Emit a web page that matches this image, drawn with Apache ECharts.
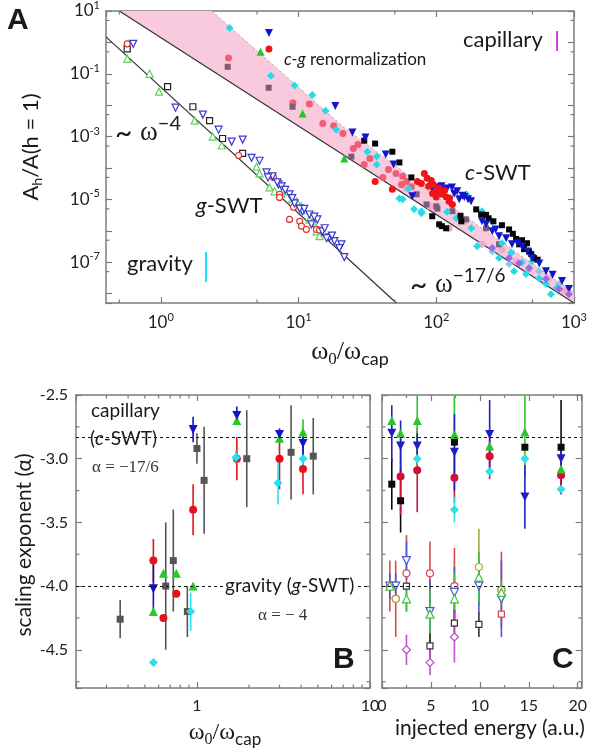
<!DOCTYPE html>
<html><head><meta charset="utf-8">
<script src="https://cdn.jsdelivr.net/npm/echarts@6/dist/echarts.min.js"></script>
<style>html,body{margin:0;padding:0;background:#fff}#c{width:590px;height:751px}</style>
</head><body><div id="c"></div>
<script>
// ===== Panel A: capillary (filled) data [omega0/omega_cap, A_h/A(h=1)] =====
const aCapRed = [[6.1,0.62],[36,3.7e-5],[48,2.1e-5],[73,3.7e-5],[82,6.7e-5],[78,3.2e-5],[86,4.7e-5],[100,1.8e-5],[110,1.45e-5],[124,8.7e-6],[131,6.9e-6],[94,1.55e-5],[88,2.6e-5],[105,2.3e-5],[118,1.2e-5],[92,4.0e-5],[115,1.9e-5],[95,3.0e-5],[125,1.1e-5],[100,1.2e-5]];
const aCapSalmon = [[3.1,0.32],[9.1,0.012],[12,0.011],[15,2.6e-3],[18,2.2e-3],[21,1.26e-3],[25,4.2e-4],[27,5.6e-4],[30,1.3e-4],[33,2.0e-4],[41,5.0e-5],[51,6.7e-5],[57,5.4e-5],[61,3.7e-5],[56,3.0e-5],[45,9.0e-5],[66,2.5e-5]];
const aCapPink = [[61,2.2e-5],[124,1.2e-6],[160,2.0e-6],[215,3.7e-7],[380,1.07e-7],[472,6.0e-8],[659,3.1e-8],[847,1.2e-8],[300,2.5e-7],[90,6e-6]];
const aCapBlue = [[6.1,2.0],[18.5,9.5e-3],[24.6,1.35e-3],[30.6,9.3e-4],[43,2.7e-4],[49,1.3e-4],[67,1.26e-5],[93,2.2e-5],[109,2.6e-5],[120,2.2e-5],[142,1.8e-5],[147,1.0e-5],[179,8.7e-6],[215,2.0e-6],[255,9.6e-7],[286,6.7e-7],[322,5.8e-7],[355,3.7e-7],[420,3.2e-7],[496,1.35e-7],[627,5.1e-8],[819,2.5e-8],[920,1.4e-8],[130,2.4e-5],[160,1.2e-5],[100,2.4e-5],[115,2.0e-5],[135,1.5e-5],[155,1.3e-5],[170,1.0e-5],[230,1.6e-6],[270,1.1e-6],[390,4.0e-7],[460,2.2e-7],[560,9e-8],[700,4.0e-8]];
const aCapBlack = [[30,7.4e-4],[36,6.0e-4],[48,3.3e-4],[54,1.5e-4],[66,5.0e-5],[93.5,2.9e-6],[105,1.6e-6],[118,1.2e-6],[110,1.4e-6],[152,2.0e-6],[195,4.8e-6],[212,3.3e-6],[338,1.1e-6],[400,3.7e-7],[434,2.6e-7],[472,2.2e-7],[456,4.0e-7],[513,1.35e-7],[240,2.5e-6],[420,5e-7],[260,2.0e-6],[300,1.5e-6],[360,8e-7],[380,5.5e-7],[490,1.8e-7],[545,1.2e-7],[230,3.2e-6],[150,3.0e-6]];
const aCapCyan = [[3.16,2.9],[6.3,0.087],[9.35,0.042],[12.6,0.021],[15.7,6.7e-3],[18.8,1.66e-3],[31.6,3.3e-4],[37,2.3e-4],[37,1.3e-4],[63,2.2e-5],[54,1.07e-5],[69,4.8e-6],[78,4.2e-6],[57,1.0e-5],[78,3.6e-6],[165,1.45e-5],[215,4.2e-6],[255,2.0e-6],[198,3.2e-7],[286,1.35e-7],[367,5.1e-8],[449,4.2e-8],[496,1.07e-7],[627,2.0e-8],[681,9.5e-9],[120,4e-6],[140,2.5e-6],[180,1.2e-6],[300,4e-7],[350,2e-7],[420,1e-7],[560,3e-8],[750,1.5e-8]];
const aCapMauve = [[3.06,0.167],[6.07,0.036],[9.05,8.9e-3],[24.2,2.3e-4],[72,1.45e-5],[85,6.9e-6],[102,5.1e-6],[100,6.0e-6],[131,4.2e-6],[165,2.3e-6],[230,1.2e-6],[286,3.7e-7]];
const aCapGreen = [[5.3,0.5],[10.7,5.4e-3],[21.5,2.0e-4]];
const aCapPurple = [[338,1.35e-7],[472,6.5e-8],[627,2.9e-8],[779,1.4e-8],[920,9.5e-9],[255,2.8e-7],[400,9.3e-8]];
const aCapSky = [[255,2.2e-7],[338,8.7e-8],[557,5.1e-8],[779,2.0e-8]];
// ===== Panel A: gravity (open) data =====
const aGravBlue = [[0.63,0.90],[1.28,8.3e-3],[2.02,5.0e-3],[2.63,1.66e-3],[3.27,6.9e-4],[3.93,8.0e-4],[4.56,2.1e-4],[5.21,1.7e-4],[5.86,7.2e-5],[6.48,5.4e-5],[7.16,3.0e-5],[7.53,2.6e-5],[8.6,1.45e-5],[9.35,7.4e-6],[10.7,4.2e-6],[12.0,3.3e-6],[13.7,2.3e-6],[14.9,9.6e-7],[16.8,6.2e-7],[18.2,4.7e-7],[20.5,3.7e-7],[21.5,1.45e-7],[10.2,5.1e-6],[12.4,1.6e-6],[16.0,5.8e-7],[19.8,2.8e-7],[6.0,5.0e-5],[7.0,3.5e-5],[8.0,2.0e-5],[9.0,1.1e-5],[11.0,5.0e-6],[13.0,2.8e-6],[15.5,1.2e-6],[17.5,7.0e-7]];
const aGravGreen = [[0.57,0.30],[0.83,0.10],[0.97,0.027],[1.76,3.2e-3],[2.38,1.0e-3],[2.77,5.2e-4],[4.96,1.1e-4],[5.21,6.7e-5],[6.16,2.4e-5],[6.7,1.8e-5],[9.68,8.7e-6],[10.5,6.0e-6],[12.0,2.3e-6],[13.5,9.6e-7],[14.2,6.7e-7],[8.2,1.8e-5],[7.5,1.5e-5],[9,1.0e-5],[11,4.5e-6],[12.8,2.0e-6]];
const aGravBlack = [[0.57,0.62],[1.12,0.039],[1.71,8.9e-3],[2.26,3.2e-3],[2.81,8.7e-4],[3.93,2.9e-4]];
const aGravRed = [[0.57,0.90],[3.67,2.5e-4],[6.59,5.0e-5],[7.28,1.45e-5],[9.2,5.6e-6],[7.28,1.15e-5],[8.6,2.3e-6],[10.2,2.0e-6],[10.5,1.4e-6],[11.4,1.1e-6],[13.5,1.1e-6],[14.2,1.05e-6]];
// theory lines (end points)
const gLine = [[0.4,1.5],[51.3,5e-9]];
const cLine = [[0.5,10],[1000,5e-9]];
// c-g renormalization band
const pinkUpper = [[0.5,10],[2.34,10],[21.9,1.78e-3],[100,1.26e-5],[1000,1.05e-8]];
const pinkLower = [[1000,5e-9],[0.5,10]];
// minor tick values
const aXMinor = [0.5,5,50,500];
const aYMinor = [5e-8,5e-7,5e-6,5e-5,5e-4,5e-3,5e-2,0.5,5];
const bXMinor = [0.3,0.4,0.5,0.6,0.7,0.8,0.9,2,3,4,5,6,7,8,9];
const bcYMinor = [-4.75,-4.25,-3.75,-3.25,-2.75];
// ===== Panel B: [omega0/omega_cap, alpha, error] =====
const bGray = [[0.36,-4.26,0.15],[0.66,-4.0,0.5],[0.73,-3.8,0.4],[0.88,-4.2,0.2],[1.0,-2.92,0.12],[1.1,-3.17,0.42],[1.94,-3.0,0.38],[3.5,-2.95,0.37],[4.7,-2.98,0.3]];
const bRed = [[0.56,-3.8,0.17],[0.64,-4.25,0],[0.76,-4.06,0],[0.95,-3.4,0.2],[1.7,-3.0,0.17],[3.0,-3.0,0.24],[4.1,-3.08,0.2]];
const bBlue = [[0.56,-4.02,0.2],[0.95,-2.77,0.1],[1.7,-2.66,0.07],[3.0,-2.81,0.03],[4.1,-2.88,0.1]];
const bGreen = [[0.56,-4.2,0],[0.64,-3.9,0],[0.76,-3.9,0],[0.95,-4.0,0],[1.7,-2.7,0],[3.0,-2.84,0],[4.1,-2.79,0.1]];
const bCyan = [[0.56,-4.6,0],[0.92,-4.2,0.15],[1.68,-2.99,0.05],[2.94,-3.19,0.17],[4.1,-3.0,0.05]];
// ===== Panel C: [injected energy, alpha, error] =====
const cBlack = [[1.0,-3.2,0.2],[1.9,-3.33,0.25],[7.4,-2.87,0],[14.6,-2.91,0],[18.3,-2.91,0.37]];
const cRed = [[1.9,-3.14,0.3],[3.6,-3.09,0.33],[7.4,-3.15,0.2],[11.0,-2.98,0.18],[18.3,-3.13,0.15]];
const cBlue = [[1.0,-2.8,0.22],[1.9,-2.9,0.2],[3.6,-2.9,0.1],[7.4,-2.95,0.3],[11.0,-2.81,0.27],[14.6,-3.3,0.25],[18.3,-3.0,0.1]];
const cGreen = [[1.0,-2.7,0],[1.9,-2.8,0],[3.6,-2.7,0.35],[7.4,-2.81,0.3],[11.0,-2.9,0],[14.6,-2.79,0.35],[18.3,-3.08,0]];
const cCyan = [[3.6,-3.0,0],[7.4,-3.4,0.1],[11.0,-3.1,0],[14.6,-3.0,0],[18.3,-3.24,0]];
const cgRed = [[0.8,-4.0,0.2],[1.4,-4.1,0.3],[2.5,-3.9,0.3],[4.9,-3.9,0.25],[7.4,-4.0,0.3],[12.2,-4.03,0.3]];
const cgOlive = [[1.4,-4.1,0],[9.9,-3.85,0.3],[12.2,-4.03,0]];
const cgBlue = [[0.8,-4.0,0.1],[1.4,-4.0,0.1],[2.5,-3.8,0.15],[4.9,-4.2,0.25],[7.4,-4.05,0.2],[9.9,-4.0,0.2],[12.2,-4.1,0.3]];
const cgGreen = [[0.8,-4.0,0],[2.5,-4.1,0.1],[4.9,-4.22,0.2],[7.4,-4.1,0.2],[9.9,-3.93,0.2],[12.2,-4.05,0.1]];
const cgBlack = [[2.5,-4.0,0],[4.9,-4.47,0.1],[7.4,-4.29,0.1],[9.9,-4.3,0.1]];
const cgMagenta = [[2.5,-4.5,0.12],[4.9,-4.6,0.1],[7.4,-4.4,0.2]];
const cgRedSq = [[12.2,-4.22,0]];
const refLevels = [-2.833, -4.0];

const SANS = 'Lato', SERIF = 'Liberation Serif', AX = '#7c7c7c', TXT = '#1a1a1a';

function powLabel(oddOnly) {
  return function (v) {
    const l = Math.log10(v), e = Math.round(l);
    if (Math.abs(l - e) > 1e-6) return '';
    if (oddOnly && Math.abs(e % 2) !== 1) return '';
    return '{b|10}{s|' + e + '}';
  };
}
const powRich = {b:{fontSize:17, fontFamily:SANS, color:'#222'}, s:{fontSize:11, fontFamily:SANS, color:'#222', padding:[0,0,11,0]}};

function axis(o) {
  const a = {
    gridIndex: o.g, type: o.type, min: o.min, max: o.max, position: o.pos,
    axisLine: {show:true, onZero:false, lineStyle:{color:AX, width:1.5}},
    axisTick: {show:true, inside:true, length:6, lineStyle:{color:AX, width:1.2}},
    splitLine: {show:false},
    axisLabel: o.label ? Object.assign({show:true, color:'#222', fontFamily:SANS, fontSize:16}, o.label) : {show:false}
  };
  if (o.interval) a.interval = o.interval;
  if (o.splitNumber) a.splitNumber = o.splitNumber;
  if (o.minor) a.minorTick = {show:true, splitNumber:o.minor, length:3, lineStyle:{color:AX, width:1.2}};
  return a;
}

function scat(arr, xi, yi, sym, size, color, open, rot, z) {
  return {type:'scatter', xAxisIndex:xi, yAxisIndex:yi, data:arr.map(d=>[d[0],d[1]]),
    symbol:sym, symbolSize:size, symbolRotate:rot||0, silent:true, z:z||4,
    itemStyle: open ? {color:'#ffffff', borderColor:color, borderWidth:1.2, opacity:1} : {color:color, opacity:1}};
}
function errs(arr, xi, yi, color) {
  return {type:'custom', xAxisIndex:xi, yAxisIndex:yi, clip:true, silent:true, z:3,
    data: arr.filter(d=>d[2]>0).map(d=>[d[0],d[1],d[2]]),
    renderItem: function (params, api) {
      const x = api.value(0), y = api.value(1), e = api.value(2);
      const p1 = api.coord([x, y + e]), p2 = api.coord([x, y - e]);
      return {type:'line', shape:{x1:p1[0], y1:p1[1], x2:p2[0], y2:p2[1]}, style:{stroke:color, lineWidth:1.6}};
    }};
}
function ticks(vals, xi, yi, dir, other) {
  return {type:'custom', xAxisIndex:xi, yAxisIndex:yi, clip:false, silent:true, z:5,
    data: vals.map(v => dir === 'x' ? [v, other] : [other, v]),
    renderItem: function (params, api) {
      const cs = params.coordSys, p = api.coord([api.value(0), api.value(1)]), L = 3.5;
      const st = {stroke:AX, lineWidth:1.2};
      if (dir === 'x') return {type:'group', children:[
        {type:'line', shape:{x1:p[0], y1:cs.y+cs.height, x2:p[0], y2:cs.y+cs.height-L}, style:st},
        {type:'line', shape:{x1:p[0], y1:cs.y, x2:p[0], y2:cs.y+L}, style:st}]};
      return {type:'group', children:[
        {type:'line', shape:{x1:cs.x, y1:p[1], x2:cs.x+L, y2:p[1]}, style:st},
        {type:'line', shape:{x1:cs.x+cs.width, y1:p[1], x2:cs.x+cs.width-L, y2:p[1]}, style:st}]};
    }};
}
const refMark = {silent:true, symbol:'none', label:{show:false}, animation:false,
  lineStyle:{type:[3,3], color:'#111', width:1}, data: refLevels.map(v=>({yAxis:v}))};

// axis indices: A = x0/y0, B = x2/y2, C = x4/y4
const series = [];
series.push({type:'custom', xAxisIndex:0, yAxisIndex:0, silent:true, clip:true, z:1, data:[[1,1]],
  renderItem: function (params, api) {
    const pts = pinkUpper.concat(pinkLower).map(p => api.coord(p));
    return {type:'polygon', shape:{points:pts}, style:{fill:'#f9cade'}};
  }});
series.push({type:'line', xAxisIndex:0, yAxisIndex:0, data:pinkUpper.slice(1), symbol:'none', silent:true, z:2,
  lineStyle:{color:'#c9a3b6', width:1, type:[3,2]}});
series.push({type:'line', xAxisIndex:0, yAxisIndex:0, data:gLine, symbol:'none', silent:true, z:2, lineStyle:{color:'#333', width:1.2}});
series.push({type:'line', xAxisIndex:0, yAxisIndex:0, data:cLine, symbol:'none', silent:true, z:2, lineStyle:{color:'#333', width:1.2}});
series.push(ticks(aXMinor, 0, 0, 'x', 1), ticks(aYMinor, 0, 0, 'y', 1));
series.push(scat(aGravGreen, 0, 0, 'triangle', 7, '#5fd35f', true));
series.push(scat(aGravBlack, 0, 0, 'rect', 6, '#222', true));
series.push(scat(aGravRed, 0, 0, 'circle', 6, '#e03535', true));
series.push(scat(aGravBlue, 0, 0, 'triangle', 7, '#3a3ad0', true, 180));
series.push(scat(aCapPink, 0, 0, 'circle', 7, '#f4a9c4'));
series.push(scat(aCapSky, 0, 0, 'diamond', 8, '#8cc8ea'));
series.push(scat(aCapSalmon, 0, 0, 'circle', 7, '#f15d75'));
series.push(scat(aCapMauve, 0, 0, 'rect', 6, '#7d5a7a'));
series.push(scat(aCapCyan, 0, 0, 'diamond', 8, '#24dbe9'));
series.push(scat(aCapBlack, 0, 0, 'rect', 6, '#050505'));
series.push(scat(aCapBlue, 0, 0, 'triangle', 8, '#1414c8', false, 180));
series.push(scat(aCapRed, 0, 0, 'circle', 7, '#ee1418'));
series.push(scat(aCapGreen, 0, 0, 'triangle', 8, '#22c822'));
series.push(scat(aCapPurple, 0, 0, 'diamond', 8, '#9a6ae6'));

// Panel B
series.push(ticks(bXMinor, 2, 2, 'x', -3), ticks(bcYMinor, 2, 2, 'y', 1));
const bSets = [[bGray,'rect',7,'#555555',0],[bRed,'circle',8,'#e5121a',0],[bCyan,'diamond',9,'#26e2ef',0],[bGreen,'triangle',9,'#22cc22',0],[bBlue,'triangle',9,'#1212cc',180]];
bSets.forEach(s => series.push(errs(s[0], 2, 2, s[3])));
bSets.forEach(s => series.push(scat(s[0], 2, 2, s[1], s[2], s[3], false, s[4])));
series[series.length-1].markLine = refMark;

// Panel C
series.push(ticks(bcYMinor, 4, 4, 'y', 5));
const cOpen = [[cgRed,'circle',7,'#d84a4a',0],[cgOlive,'circle',7,'#a8a848',0],[cgBlue,'triangle',8,'#4a58d8',180],[cgGreen,'triangle',8,'#44c044',0],[cgBlack,'rect',6,'#333333',0],[cgMagenta,'diamond',8,'#c050d0',0],[cgRedSq,'rect',6,'#d84a4a',0]];
const cFill = [[cBlack,'rect',7,'#0a0a0a',0],[cRed,'circle',8,'#d0103a',0],[cCyan,'diamond',9,'#2ee0e8',0],[cGreen,'triangle',9,'#2cc62c',0],[cBlue,'triangle',9,'#2020c0',180]];
cOpen.forEach(s => series.push(errs(s[0], 4, 4, s[3])));
cFill.forEach(s => series.push(errs(s[0], 4, 4, s[3])));
cOpen.forEach(s => series.push(scat(s[0], 4, 4, s[1], s[2], s[3], true, s[4])));
cFill.forEach(s => series.push(scat(s[0], 4, 4, s[1], s[2], s[3], false, s[4])));
series[series.length-1].markLine = refMark;

function T(x, y, text, style, extra) {
  return Object.assign({type:'text', x:x, y:y, z:100, silent:true,
    style: Object.assign({text:text, fill:TXT, align:'left', verticalAlign:'middle', fontFamily:SANS, fontSize:20}, style)}, extra || {});
}
const sub = (size, pad, fam) => ({fontFamily:fam||SANS, fontSize:size, fill:TXT, padding:[pad,0,0,0]});
const sup = (size, pad, fam) => ({fontFamily:fam||SANS, fontSize:size, fill:TXT, padding:[0,0,pad,0]});
const it = (size) => ({fontFamily:SANS, fontSize:size, fontStyle:'italic', fill:TXT});
const rg = (size, fam) => ({fontFamily:fam||SANS, fontSize:size, fill:TXT});

const graphic = [
  T(7, 21, 'A', {fontFamily:'Liberation Sans', fontWeight:'bold', fontSize:30}),
  T(31, 147, '{a|A}{s|h}{a|/A(h = 1)}', {align:'center', rich:{a:rg(22), s:sub(14,12)}}, {rotation:Math.PI/2}),
  T(350, 352, '{w|ω}{s|0}{w|/ω}{c|cap}', {align:'center', rich:{w:rg(26,SERIF), s:sub(17,15,SERIF), c:sub(18,15)}}),
  T(115, 133, '{t|~ }{w|ω}{p|−4}', {rich:{t:rg(30), w:rg(27,SERIF), p:sup(20,18)}}),
  T(196, 206, '{i|g}{r|-SWT}', {rich:{i:it(22), r:rg(22)}}),
  T(127, 264, 'gravity', {fontSize:22}),
  {type:'line', z:100, silent:true, shape:{x1:206, y1:252, x2:206, y2:282}, style:{stroke:'#18e4f2', lineWidth:2}},
  T(284, 60, '{i|c-g}{r| renormalization}', {rich:{i:it(17), r:rg(17)}}),
  T(463, 40, 'capillary', {fontSize:22}),
  {type:'line', z:100, silent:true, shape:{x1:557, y1:31, x2:557, y2:51}, style:{stroke:'#d444d4', lineWidth:2}},
  T(465, 173, '{i|c}{r|-SWT}', {rich:{i:it(22), r:rg(22)}}),
  T(410, 285, '{t|~ }{w|ω}{p|−17/6}', {rich:{t:rg(30), w:rg(27,SERIF), p:sup(19,18)}}),
  T(91, 411, 'capillary', {fontSize:19}),
  T(90, 439, '{r|(}{i|c}{r|-SWT)}', {rich:{i:it(19), r:rg(19)}}),
  T(92, 468, 'α = −17/6', {fontFamily:SERIF, fontSize:17, fill:'#333'}),
  T(224, 586, '{r|gravity (}{i|g}{r|-SWT)}', {backgroundColor:'#fff', padding:[0,1,0,1], rich:{i:it(19), r:rg(19)}}),
  T(258, 616, 'α = − 4', {fontFamily:SERIF, fontSize:17, fill:'#333'}),
  T(333, 660, 'B', {fontFamily:'Liberation Sans', fontWeight:'bold', fontSize:30}),
  T(552, 660, 'C', {fontFamily:'Liberation Sans', fontWeight:'bold', fontSize:30}),
  T(24, 545, 'scaling exponent (α)', {align:'center', fontSize:21}, {rotation:Math.PI/2}),
  T(225, 733, '{w|ω}{s|0}{w|/ω}{c|cap}', {align:'center', rich:{w:rg(24,SERIF), s:sub(16,14,SERIF), c:sub(17,14)}}),
  T(490, 728, 'injected energy (a.u.)', {align:'center', fontSize:21})
];

const bLogLabel = {formatter: function (v) { const l = Math.log10(v), e = Math.round(l); return Math.abs(l-e) < 1e-6 ? String(Math.round(v)) : ''; }, margin:10, fontSize:16};
const alphaLabel = {formatter: function (v) { return Math.abs(v*2 - Math.round(v*2)) < 1e-6 ? v.toFixed(1) : ''; }, margin:8, fontSize:16};
const cLabel = {formatter: function (v) { return Math.abs(v % 5) < 1e-6 ? String(v) : ''; }, margin:10, fontSize:16};

const option = {
  animation: false,
  grid: [
    {left:106, top:9, width:469, height:294},
    {left:76, top:395, width:294, height:293},
    {left:382, top:395, width:204, height:293}
  ],
  xAxis: [
    axis({g:0, type:'log', min:0.4, max:1000, pos:'bottom', label:{formatter:powLabel(false), rich:powRich, margin:9, showMinLabel:false}}),
    axis({g:0, type:'log', min:0.4, max:1000, pos:'top'}),
    axis({g:1, type:'log', min:0.2, max:10, pos:'bottom', label:bLogLabel}),
    axis({g:1, type:'log', min:0.2, max:10, pos:'top'}),
    axis({g:2, type:'value', min:0, max:20.4, interval:5, pos:'bottom', label:cLabel, minor:2}),
    axis({g:2, type:'value', min:0, max:20.4, interval:5, pos:'top', minor:2})
  ],
  yAxis: [
    axis({g:0, type:'log', min:5e-9, max:10, pos:'left', splitNumber:10, label:{formatter:powLabel(true), rich:powRich, margin:6}}),
    axis({g:0, type:'log', min:5e-9, max:10, pos:'right', splitNumber:10}),
    axis({g:1, type:'value', min:-4.8, max:-2.5, pos:'left', splitNumber:5, label:alphaLabel}),
    axis({g:1, type:'value', min:-4.8, max:-2.5, pos:'right', splitNumber:5}),
    axis({g:2, type:'value', min:-4.8, max:-2.5, pos:'left', splitNumber:5}),
    axis({g:2, type:'value', min:-4.8, max:-2.5, pos:'right', splitNumber:5})
  ],
  series: series,
  graphic: graphic
};
const chart = echarts.init(document.getElementById('c'), null, {renderer:'canvas'});
chart.setOption(option);
</script></body></html>
